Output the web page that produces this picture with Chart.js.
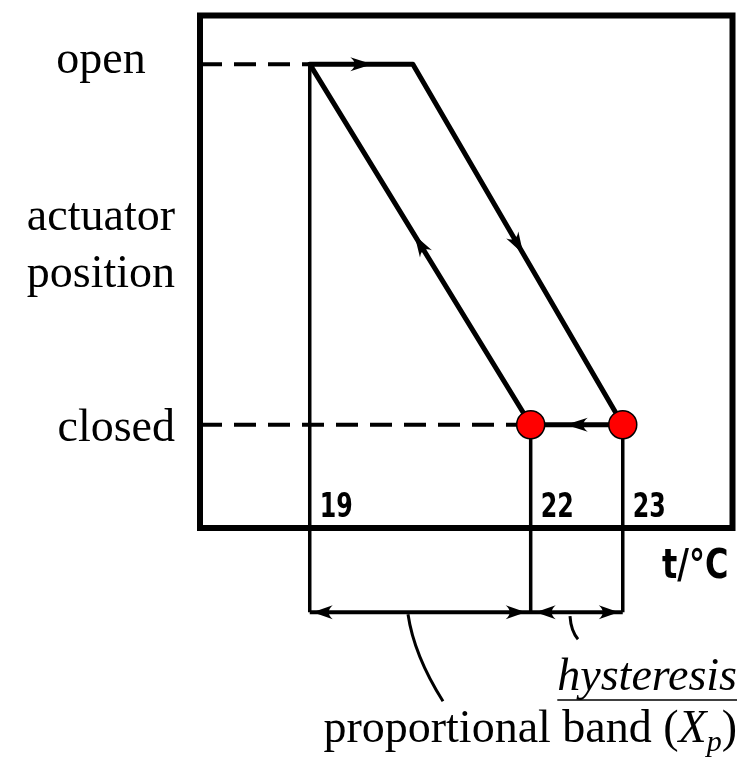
<!DOCTYPE html>
<html>
<head>
<meta charset="utf-8">
<script src="https://cdn.jsdelivr.net/npm/chart.js@4.4.1/dist/chart.umd.min.js"></script>
<style>
  html, body { margin: 0; padding: 0; background: #fff; }
</style>
</head>
<body>
<canvas id="chart" width="748" height="774"></canvas>
<script>
// temperatures where the sketch puts them (the drawing is not quite to scale)
const loopTemps = [22, 19, 20.4, 23.25, 22];
const loopLevels = [0, 1, 1, 0, 0];          // 0 = closed, 1 = open
const switchTemps = [22, 23.25];             // red points on the closed line
const tickTemps = [19, 22, 23.25];
const tickLabels = ['19', '22', '23'];
const tickLevels = [1, 0, 0];                // where each guide line starts
const bandLevel = -0.52;                     // dimension line under the axis
const xRange = [17.51, 24.74];
const yRange = [-0.2865, 1.135];

const loopData = loopTemps.map((t, i) => ({ x: t, y: loopLevels[i] }));
const switchData = switchTemps.map((t) => ({ x: t, y: 0 }));

const line = (data, extra) => Object.assign({
  data,
  showLine: true,
  borderColor: '#000',
  borderWidth: 4,
  pointRadius: 0,
  tension: 0,
  clip: false,
}, extra);

const guideSets = tickTemps.map((t, i) =>
  line([{ x: t, y: tickLevels[i] }, { x: t, y: bandLevel }], { borderWidth: 3.5 }));

function arrow(ctx, x, y, dx, dy, len) {
  const d = Math.hypot(dx, dy);
  const ux = dx / d, uy = dy / d;
  const w = 7;
  ctx.beginPath();
  ctx.moveTo(x, y);
  ctx.lineTo(x - ux * len - uy * w, y - uy * len + ux * w);
  ctx.quadraticCurveTo(x - ux * len * 0.6, y - uy * len * 0.6, x - ux * len + uy * w, y - uy * len - ux * w);
  ctx.closePath();
  ctx.fill();
}

const sketchPlugin = {
  id: 'sketch',
  afterDraw(chart) {
    const { ctx, chartArea: a, scales: { x, y } } = chart;
    ctx.save();
    ctx.fillStyle = '#000';
    ctx.strokeStyle = '#000';

    // frame
    ctx.lineWidth = 6;
    ctx.strokeRect(a.left, a.top, a.right - a.left, a.bottom - a.top);

    // direction arrows on the loop
    for (let i = 0; i < loopData.length - 1; i++) {
      const x0 = x.getPixelForValue(loopData[i].x), y0 = y.getPixelForValue(loopData[i].y);
      const x1 = x.getPixelForValue(loopData[i + 1].x), y1 = y.getPixelForValue(loopData[i + 1].y);
      const mx = (x0 + x1) / 2, my = (y0 + y1) / 2;
      const d = Math.hypot(x1 - x0, y1 - y0);
      arrow(ctx, mx + (x1 - x0) / d * 11, my + (y1 - y0) / d * 11, x1 - x0, y1 - y0, 22);
    }

    // dimension arrows
    const by = y.getPixelForValue(bandLevel);
    const px = tickTemps.map((t) => x.getPixelForValue(t));
    arrow(ctx, px[0] + 3, by, -1, 0, 20);
    arrow(ctx, px[1] - 5, by, 1, 0, 20);
    arrow(ctx, px[1] + 5, by, -1, 0, 20);
    arrow(ctx, px[2] - 4, by, 1, 0, 20);

    // leader lines
    ctx.lineWidth = 3;
    ctx.beginPath();
    ctx.moveTo(408, by + 2);
    ctx.quadraticCurveTo(414, by + 43, 443, by + 89);
    ctx.moveTo(570, by + 4);
    ctx.quadraticCurveTo(571, by + 19, 578, by + 27);
    ctx.stroke();

    // tick labels, squeezed to look like the hand lettering
    const hand = '"Liberation Sans Narrow", "DejaVu Sans", sans-serif';
    ctx.textBaseline = 'alphabetic';
    ctx.textAlign = 'left';
    ctx.font = 'bold 33px ' + hand;
    tickLabels.forEach((lab, i) => {
      ctx.save();
      ctx.translate(px[i] + 10, a.bottom - 11);
      ctx.scale(0.72, 1);
      ctx.fillText(lab, 0, 0);
      ctx.restore();
    });
    ctx.save();
    ctx.font = 'bold 40px ' + hand;
    ctx.translate(662, a.bottom + 50);
    ctx.scale(0.8, 1);
    ctx.fillText('t/°C', 0, 0);
    ctx.restore();

    // level labels
    const serif = '"Liberation Serif", "Times New Roman", serif';
    ctx.font = '46px ' + serif;
    ctx.textAlign = 'center';
    ctx.fillText('open', a.left - 99, y.getPixelForValue(1) + 9);
    ctx.textAlign = 'right';
    ctx.fillText('closed', a.left - 25, y.getPixelForValue(0) + 16);
    ctx.fillText('actuator', a.left - 25, 230);
    ctx.fillText('position', a.left - 25, 287);

    // hysteresis label
    const rx = 737;
    ctx.font = 'italic 46px ' + serif;
    const hw = ctx.measureText('hysteresis').width;
    ctx.fillText('hysteresis', rx, 690);
    ctx.lineWidth = 1.5;
    ctx.beginPath();
    ctx.moveTo(rx - hw, 700);
    ctx.lineTo(rx, 700);
    ctx.stroke();

    // proportional band (Xp)
    const parts = [
      ['proportional band (', '46px ' + serif, 0],
      ['X', 'italic 46px ' + serif, 0],
      ['p', 'italic 30px ' + serif, 9],
      [')', '46px ' + serif, 0],
    ];
    let cx = rx;
    ctx.textAlign = 'left';
    for (let i = parts.length - 1; i >= 0; i--) {
      ctx.font = parts[i][1];
      cx -= ctx.measureText(parts[i][0]).width;
    }
    parts.forEach(([s, f, dy]) => {
      ctx.font = f;
      ctx.fillText(s, cx, 742 + dy);
      cx += ctx.measureText(s).width;
    });
    ctx.restore();
  },
};

new Chart(document.getElementById('chart'), {
  type: 'scatter',
  data: {
    datasets: [
      {
        data: switchData,
        showLine: false,
        pointRadius: 14,
        pointBackgroundColor: '#ff0000',
        pointBorderColor: '#000',
        pointBorderWidth: 1.5,
        clip: false,
      },
      line(loopData, { borderWidth: 5, borderJoinStyle: 'round' }),
      ...guideSets,
      line([{ x: tickTemps[0], y: bandLevel }, { x: tickTemps[2], y: bandLevel }]),
      line([{ x: xRange[0], y: 1 }, { x: loopTemps[1], y: 1 }], { borderDash: [22, 12] }),
      line([{ x: xRange[0], y: 0 }, { x: loopTemps[0], y: 0 }], { borderDash: [22, 12] }),
    ],
  },
  options: {
    responsive: false,
    animation: false,
    layout: { padding: { left: 200, right: 15, top: 12, bottom: 246 } },
    scales: {
      x: { type: 'linear', min: xRange[0], max: xRange[1], display: false },
      y: { type: 'linear', min: yRange[0], max: yRange[1], display: false },
    },
    plugins: { legend: { display: false }, tooltip: { enabled: false } },
  },
  plugins: [sketchPlugin],
});
</script>
</body>
</html>
